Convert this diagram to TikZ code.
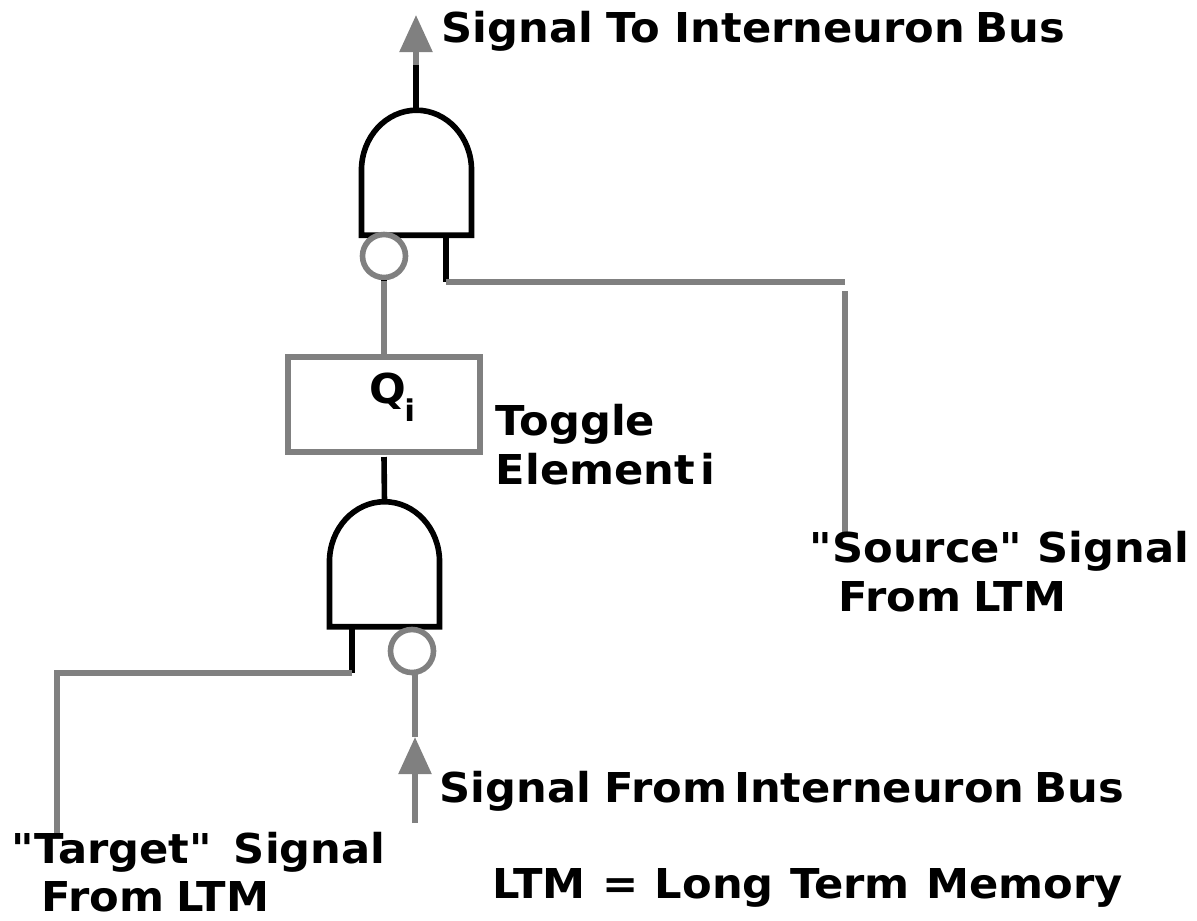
\documentclass[tikz,border=0pt]{standalone}
\usepackage{xcolor}
\usepackage{fontspec}
\newfontfamily\labelfont[FakeStretch=1.05]{DejaVu Sans}
\usepackage{tikz}
\usetikzlibrary{arrows.meta}
\definecolor{wiregray}{HTML}{808080}
\tikzset{
	blackwire/.style={draw=black,line width=0.056cm},
	graywire/.style={draw=wiregray,line width=0.056cm},
	gatebox/.style={inner sep=0pt,outer sep=0pt,minimum width=1.1cm,minimum height=1.25cm},
	bubble/.style={circle,graywire,fill=white,inner sep=0pt,minimum size=0.43cm},
	togglebox/.style={rectangle,graywire,inner sep=0pt,minimum width=1.92cm,minimum height=0.95cm},
	label/.style={anchor=base west,inner sep=0pt,font=\labelfont\bfseries\fontsize{11.7}{14}\selectfont},
	uptip/.style={-{Triangle[length=0.37cm,width=0.32cm]}}
}
\begin{document}
\begin{tikzpicture}[x=0.01cm,y=-0.01cm]
	\useasboundingbox (0,0) rectangle (1197,920);
	
	\node[gatebox] (gateU) at (416.5,172.7) {};
	\node[gatebox] (gateL) at (384.5,564.2) {};
	% gate outlines
	\foreach \g in {gateU,gateL}{
		\draw[blackwire] (\g.south west) -- ++(0,-65) arc[start angle=180,end angle=0,x radius=0.55cm,y radius=0.6cm] -- (\g.south east) -- cycle;
	}
	
	\node[bubble] (bubbleU) at (384,256) {};
	\node[bubble] (bubbleL) at (412,651) {};
	\node[togglebox] (toggle) at (384,404.5) {};
	
	\foreach \x/\y/\z in
	{outU/416/65, outTip/416/15, joinU/446/282, srcEnd/845/282, srcTop/845/291, srcBot/845/535,
	 bubOut/384/281, togIn/384/457, joinL/352/673, tgtCorner/57/673, tgtBot/57/833,
	 busBot/415/823, busTip/415/737, bubIn/415/672}{
		\coordinate (\x) at (\y,\z);
	}
	
	% top output
	\draw[graywire,uptip] (outU) -- (outTip);
	\draw[blackwire] (gateU.north -| outU) -- (outU);
	
	% source signal
	\draw[blackwire] (gateU.south -| joinU) -- (joinU);
	\draw[graywire] (joinU) -- (srcEnd);
	\draw[graywire] (srcTop) -- (srcBot);
	
	% toggle element
	\draw[graywire] (bubbleU) -- (toggle);
	\draw[blackwire] (bubbleU.south) -- (bubOut);
	\draw[blackwire] (togIn) -- (gateL.north);
	
	% target signal
	\draw[blackwire] (gateL.south -| joinL) -- (joinL);
	\draw[graywire] (joinL) -- (tgtCorner) -- (tgtBot);
	
	% interneuron input
	\draw[graywire,uptip] (busBot) -- (busTip);
	\draw[graywire] (busTip) -- (bubIn);
	
	% labels
	\node[label] (lblOut) at (441,42) {Signal\hspace{-0.02cm} To Interneuron\hspace{-0.05cm} Bus};
	\node[label] (lblQ) at (369,403) {Q\hspace{-0.02cm}\raisebox{-0.18cm}{\fontsize{8.5}{10}\selectfont i}};
	\node[label] (lblTogA) at (495,435) {Toggle};
	\node[label] (lblTogB) at (495,484) {Element\hspace{-0.1cm} i};
	\node[label] (lblSrcA) at (809,562) {"Source" Signal};
	\node[label] (lblSrcB) at (838,611) {From\hspace{-0.03cm} LTM};
	\node[label] (lblBus) at (439,802) {Signal\hspace{-0.02cm} From\hspace{-0.08cm} Interneuron\hspace{-0.05cm} Bus};
	\node[label] (lblTgtA) at (11,863) {"Target"\hspace{0.07cm} Signal};
	\node[label] (lblTgtB) at (41,911) {From\hspace{-0.03cm} LTM};
	\node[label] (lblLtm) at (492,898) {LTM\hspace{0.015cm} =\hspace{0.015cm} Long\hspace{0.015cm} Term\hspace{0.015cm} Memory};
\end{tikzpicture}
\end{document}
